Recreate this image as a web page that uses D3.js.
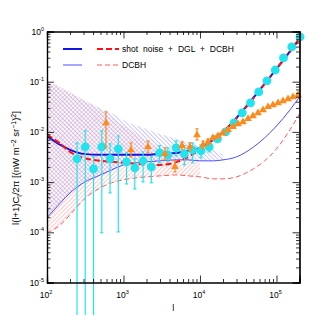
<!DOCTYPE html>
<html>
<head>
<meta charset="utf-8">
<script src="https://cdn.jsdelivr.net/npm/d3@7"></script>
<style>
  body { margin: 0; background: #fff; }
  svg { display: block; font-family: "Liberation Sans", Arial, sans-serif; }
</style>
</head>
<body>
<div id="chart"></div>
<script>
// multipoles where the model curves were read
const ELL = [100, 150, 200, 300, 500, 700, 1000, 1500, 2000, 3000, 5000, 7000,
             1e4, 1.5e4, 2e4, 3e4, 5e4, 7e4, 1e5, 1.5e5, 2e5];

// shot noise + DGL + DCBH
const totalBlue = [8.3e-3, 5.5e-3, 4.4e-3, 3.65e-3, 3.5e-3, 3.5e-3, 3.5e-3, 3.5e-3, 3.5e-3, 3.65e-3, 3.8e-3, 4.2e-3,
                   4.8e-3, 7.0e-3, 1.0e-2, 1.9e-2, 4.8e-2, 9.1e-2, 0.18, 0.40, 0.72];
const totalRed  = [8.7e-3, 5.8e-3, 4.0e-3, 3.04e-3, 2.65e-3, 2.53e-3, 2.42e-3, 2.31e-3, 2.2e-3, 2.2e-3, 2.53e-3, 3.18e-3,
                   4.4e-3, 6.6e-3, 1.0e-2, 1.85e-2, 4.7e-2, 9.0e-2, 0.18, 0.40, 0.72];
// DCBH only
const dcbhBlue = [1.95e-4, 3.86e-4, 6.1e-4, 9.7e-4, 1.39e-3, 1.75e-3, 2.2e-3, 2.42e-3, 2.53e-3, 2.65e-3, 2.77e-3, 2.77e-3,
                  2.65e-3, 2.65e-3, 2.77e-3, 3.18e-3, 5.0e-3, 7.6e-3, 1.31e-2, 2.74e-2, 4.97e-2];
const dcbhRed  = [9.8e-5, 1.41e-4, 2.23e-4, 4.43e-4, 7.7e-4, 9.7e-4, 1.11e-3, 1.22e-3, 1.27e-3, 1.33e-3, 1.39e-3, 1.33e-3,
                  1.27e-3, 1.16e-3, 1.16e-3, 1.27e-3, 1.84e-3, 2.65e-3, 4.59e-3, 1.10e-2, 2.28e-2];

// upper edges of the hatched ranges (lower edge = DCBH curve)
const bandBlueHi = [0.1035, 0.0751, 0.0597, 0.0433, 0.0301, 0.0239, 0.0173, 0.0132, 0.01148, 9.1e-3, 7.3e-3, 6.3e-3,
                    5.3e-3, 4.4e-3, 3.5e-3];
const bandRedHi  = [0.1035, 0.0787, 0.0625, 0.0433, 0.0274, 0.0190, 0.0132, 9.1e-3, 6.9e-3, 4.8e-3, 3.5e-3, 3.04e-3,
                    2.65e-3];

// cyan measurements
const cyanL  = [247, 316, 406, 520, 667, 855, 1096, 1406, 1803, 2312, 2965, 3802, 4875, 6252, 8017, 10280,
                13183, 16904, 21677, 27797, 35645, 45709, 58614, 75162, 96383, 123595, 158489, 203236];
const cyanV  = [2.9e-3, 5.03e-3, 1.84e-3, 5.03e-3, 2.9e-3, 4.59e-3, 2.53e-3, 1.92e-3, 2.65e-3, 2.01e-3, 3.82e-3, 3.49e-3,
                4.81e-3, 3.65e-3, 4.38e-3, 4.19e-3, 5.03e-3, 7.26e-3, 1.0e-2, 1.51e-2, 2.39e-2, 3.78e-2,
                6.25e-2, 0.104, 0.171, 0.297, 0.492, 0.778];
const cyanHi = [6.04e-3, 1.05e-2, 3.18e-3, 1.05e-2, 5.77e-3, 8.3e-3, 3.82e-3, 2.9e-3, 4.0e-3, 3.18e-3, 5.3e-3, 4.81e-3,
                6.6e-3, 5.3e-3, 6.04e-3, 5.5e-3, 6.3e-3, 8.0e-3, 1.1e-2, 1.65e-2, 2.6e-2, 4.1e-2,
                6.7e-2, 0.11, 0.18, 0.31, 0.51, 0.80];
const cyanLo = [1e-6, 1e-6, 1e-6, 9.8e-5, 6.1e-4, 1.02e-4, 9.2e-4, 7.3e-4, 1.01e-3, 9.7e-4, 2.42e-3, 2.53e-3,
                3.33e-3, 2.2e-3, 2.42e-3, 3.04e-3, 4.0e-3, 6.6e-3, 9.1e-3, 1.38e-2, 2.2e-2, 3.5e-2,
                5.8e-2, 0.098, 0.162, 0.285, 0.475, 0.755];

// orange measurements
const orangeL  = [590, 1253, 2089, 3483, 4710, 5817, 7396, 9141, 10948, 12727, 14795, 17199, 19993, 23241,
                  27017, 31406, 36508, 42439, 49334, 57349, 66666, 77497, 90088, 104724, 121738, 141516,
                  164507, 191233];
const orangeV  = [1.51e-2, 4.38e-3, 5.03e-3, 3.65e-3, 2.01e-3, 5.3e-3, 5.03e-3, 8.7e-3, 5.5e-3, 6.3e-3, 7.6e-3, 8.3e-3,
                  9.55e-3, 1.10e-2, 1.26e-2, 1.44e-2, 1.58e-2, 1.82e-2, 2.08e-2, 2.39e-2, 2.74e-2, 3.15e-2,
                  3.45e-2, 3.78e-2, 4.14e-2, 4.54e-2, 4.97e-2, 5.45e-2];
const orangeHi = [2.5e-2, 6.04e-3, 6.6e-3, 4.81e-3, 2.65e-3, 6.3e-3, 6.04e-3, 1.15e-2, 6.6e-3, 7.2e-3, 8.4e-3, 9.0e-3,
                  1.03e-2, 1.18e-2, 1.34e-2, 1.52e-2, 1.66e-2, 1.9e-2, 2.17e-2, 2.48e-2, 2.84e-2, 3.26e-2,
                  3.56e-2, 3.9e-2, 4.27e-2, 4.68e-2, 5.12e-2, 5.6e-2];
const orangeLo = [4.8e-3, 3.18e-3, 3.82e-3, 2.77e-3, 1.6e-3, 4.4e-3, 4.2e-3, 6.9e-3, 4.6e-3, 5.5e-3, 6.8e-3, 7.6e-3,
                  8.8e-3, 1.02e-2, 1.18e-2, 1.36e-2, 1.5e-2, 1.74e-2, 1.99e-2, 2.3e-2, 2.64e-2, 3.04e-2,
                  3.34e-2, 3.66e-2, 4.01e-2, 4.4e-2, 4.82e-2, 5.3e-2];

// axes
const xMajor = [1e2, 1e3, 1e4, 1e5], xExp = ["2", "3", "4", "5"];
const yMajor = [1e-5, 1e-4, 1e-3, 1e-2, 1e-1, 1e0], yExp = ["-5", "-4", "-3", "-2", "-1", "0"];

const legendLabels = ["shot noise + DGL + DCBH", "DCBH"];

let margin = {top: 31.5, right: 15.5, bottom: 32.5, left: 47},
    width = 315 - margin.left - margin.right,
    height = 315 - margin.top - margin.bottom;

let x = d3.scaleLog().domain([100, 2e5]).range([0, width]);
let y = d3.scaleLog().domain([1e-5, 1]).range([height, 0]);

let root = d3.select("#chart").append("svg")
    .attr("width", 315)
    .attr("height", 315);

let defs = root.append("defs");
defs.append("clipPath").attr("id", "plotClip")
    .append("rect").attr("width", width).attr("height", height);

function hatch(id, color, angle) {
    defs.append("pattern")
        .attr("id", id)
        .attr("patternUnits", "userSpaceOnUse")
        .attr("width", 3).attr("height", 3)
        .attr("patternTransform", "rotate(" + angle + ")")
        .append("line")
        .attr("x1", 0.5).attr("y1", 0).attr("x2", 0.5).attr("y2", 3)
        .attr("stroke", color).attr("stroke-width", 0.55);
}
hatch("hatchRed", "#ff9a9a", 45);
hatch("hatchBlue", "#9a9aff", -45);

let svg = root.append("g")
    .attr("transform", "translate(" + margin.left + "," + margin.top + ")");

let plot = svg.append("g").attr("clip-path", "url(#plotClip)");

// hatched ranges
function band(hi, fill) {
    let pts = hi.map((h, i) => ({l: ELL[i], hi: h, lo: fill === "hatchRed" ? dcbhRed[i] : dcbhBlue[i]}));
    plot.append("path")
        .datum(pts)
        .attr("fill", "url(#" + fill + ")")
        .attr("d", d3.area()
            .curve(d3.curveMonotoneX)
            .x((d) => x(d.l))
            .y0((d) => y(d.lo))
            .y1((d) => y(d.hi)));
}
band(bandRedHi, "hatchRed");
band(bandBlueHi, "hatchBlue");

// model curves
let line = d3.line().curve(d3.curveMonotoneX).x((d) => x(d[0])).y((d) => y(d[1]));
function curve(vals, color, w, dash) {
    plot.append("path")
        .datum(ELL.map((l, i) => [l, vals[i]]))
        .attr("fill", "none")
        .attr("stroke", color)
        .attr("stroke-width", w)
        .attr("stroke-dasharray", dash)
        .attr("d", line);
}
curve(dcbhBlue, "#4d4dff", 1, null);
curve(dcbhRed, "#ff5a5a", 1, "5,3");
curve(totalBlue, "#1515e0", 2, null);
curve(totalRed, "#ff1010", 2, "6,3");

// measurements with error bars (bars are not clipped, as in the original)
function errorBars(L, V, Hi, Lo, color) {
    let g = svg.append("g").attr("stroke", color).attr("stroke-width", 1.2);
    L.forEach(function (l, i) {
        let cx = x(l);
        g.append("line").attr("x1", cx).attr("x2", cx).attr("y1", y(Hi[i])).attr("y2", y(Lo[i]));
        g.append("line").attr("x1", cx - 1.6).attr("x2", cx + 1.6).attr("y1", y(Hi[i])).attr("y2", y(Hi[i]));
        if (Lo[i] > 1e-5)
            g.append("line").attr("x1", cx - 1.6).attr("x2", cx + 1.6).attr("y1", y(Lo[i])).attr("y2", y(Lo[i]));
    });
}
errorBars(cyanL, cyanV, cyanHi, cyanLo, "#22e4ee");
svg.append("g").selectAll("circle")
    .data(cyanL)
    .enter().append("circle")
    .attr("cx", (d) => x(d))
    .attr("cy", (d, i) => y(cyanV[i]))
    .attr("r", 4.4)
    .attr("fill", "#22e4ee");

errorBars(orangeL, orangeV, orangeHi, orangeLo, "#ff8a1c");
svg.append("g").selectAll("path")
    .data(orangeL)
    .enter().append("path")
    .attr("transform", (d, i) => "translate(" + x(d) + "," + y(orangeV[i]) + ")")
    .attr("d", d3.symbol(d3.symbolTriangle).size(26))
    .attr("fill", "#ff8a1c");

// frame and ticks (inward, on all four sides)
function minorTicks(domain) {
    let t = [];
    for (let e = Math.floor(Math.log10(domain[0])); e <= Math.ceil(Math.log10(domain[1])); e++) {
        for (let k = 2; k <= 9; k++) {
            let v = k * Math.pow(10, e);
            if (v > domain[0] && v < domain[1]) t.push(v);
        }
    }
    return t;
}
let xMinor = minorTicks(x.domain()), yMinor = minorTicks(y.domain());

svg.append("g").attr("class", "x axis")
    .attr("transform", "translate(0," + height + ")")
    .call(d3.axisBottom(x).tickValues(xMajor).tickSize(-7).tickFormat(""));
svg.append("g").attr("transform", "translate(0," + height + ")")
    .call(d3.axisBottom(x).tickValues(xMinor).tickSize(-3.5).tickFormat(""));
svg.append("g")
    .call(d3.axisTop(x).tickValues(xMajor).tickSize(-7).tickFormat(""));
svg.append("g")
    .call(d3.axisTop(x).tickValues(xMinor).tickSize(-3.5).tickFormat(""));
svg.append("g").attr("class", "y axis")
    .call(d3.axisLeft(y).tickValues(yMajor).tickSize(-7).tickFormat(""));
svg.append("g")
    .call(d3.axisLeft(y).tickValues(yMinor).tickSize(-3.5).tickFormat(""));
svg.append("g").attr("transform", "translate(" + width + ",0)")
    .call(d3.axisRight(y).tickValues(yMajor).tickSize(-7).tickFormat(""));
svg.append("g").attr("transform", "translate(" + width + ",0)")
    .call(d3.axisRight(y).tickValues(yMinor).tickSize(-3.5).tickFormat(""));
svg.selectAll(".domain").attr("stroke", "#000").attr("stroke-width", 1.2);
svg.selectAll(".tick line").attr("stroke", "#000").attr("stroke-width", 0.8);

// tick labels 10^n
xMajor.forEach(function (v, i) {
    let t = svg.append("text")
        .attr("x", x(v) - 1).attr("y", height + 15)
        .attr("text-anchor", "middle")
        .attr("font-size", 8.5);
    t.append("tspan").text("10");
    t.append("tspan").attr("dy", -4).attr("font-size", 5.5).text(xExp[i]);
});
yMajor.forEach(function (v, i) {
    let t = svg.append("text")
        .attr("x", -3).attr("y", y(v) + 3)
        .attr("text-anchor", "end")
        .attr("font-size", 8.5);
    t.append("tspan").text("10");
    t.append("tspan").attr("dy", -4).attr("font-size", 5.5).text(yExp[i]);
});

// axis titles
svg.append("text")
    .attr("x", width / 2).attr("y", height + 28)
    .attr("text-anchor", "middle")
    .attr("font-size", 9)
    .text("l");

let yl = svg.append("text")
    .attr("transform", "translate(" + (-28) + "," + (height / 2 + 11) + ") rotate(-90)")
    .attr("text-anchor", "middle")
    .attr("font-size", 9.5);
yl.append("tspan").text("l(l+1)C");
yl.append("tspan").attr("dy", 2.5).attr("font-size", 7).text("l");
yl.append("tspan").attr("dy", -2.5).text("/2\u03C0 [(nW m");
yl.append("tspan").attr("dy", -3.5).attr("font-size", 7).text("\u22122");
yl.append("tspan").attr("dy", 3.5).text(" sr");
yl.append("tspan").attr("dy", -3.5).attr("font-size", 7).text("\u22121");
yl.append("tspan").attr("dy", 3.5).text(")");
yl.append("tspan").attr("dy", -3.5).attr("font-size", 7).text("2");
yl.append("tspan").attr("dy", 3.5).text("]");

// legend
let leg = svg.append("g").attr("transform", "translate(16,17.5)");
[[0, 2, "#1515e0", "#ff1010", "6,3"], [16, 1, "#4d4dff", "#ff5a5a", "5,3"]].forEach(function (r, i) {
    leg.append("line").attr("x1", 0).attr("x2", 19).attr("y1", r[0]).attr("y2", r[0])
        .attr("stroke", r[2]).attr("stroke-width", r[1]);
    leg.append("line").attr("x1", 34).attr("x2", 56).attr("y1", r[0]).attr("y2", r[0])
        .attr("stroke", r[3]).attr("stroke-width", r[1]).attr("stroke-dasharray", r[4]);
    leg.append("text").attr("x", 59).attr("y", r[0] + 3)
        .attr("font-size", 8.5)
        .attr("word-spacing", 2.5)
        .text(legendLabels[i]);
});
</script>
</body>
</html>
